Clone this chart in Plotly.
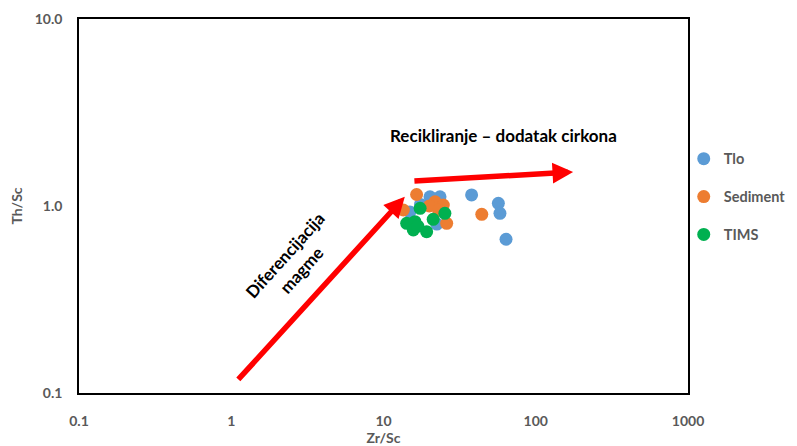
import numpy as np
import plotly.graph_objects as go

# Data (Zr/Sc, Th/Sc)
tlo_x = [37.9, 56.8, 58.2, 63.8, 20.2, 23.5, 22.4, 14.9, 17.5]
tlo_y = [1.146, 1.034, 0.914, 0.664, 1.12, 1.12, 0.80, 0.93, 1.02]
sed_x = [44.2, 16.5, 13.5, 21.8, 24.7, 26.0, 20.0, 23.0]
sed_y = [0.903, 1.152, 0.952, 1.054, 1.012, 0.808, 1.0, 0.95]
tims_x = [17.4, 25.3, 21.2, 14.2, 16.1, 15.7, 19.2, 16.8]
tims_y = [0.972, 0.914, 0.849, 0.808, 0.824, 0.744, 0.729, 0.78]

x_ticks = [0.1, 1, 10, 100, 1000]
x_ticktext = ["<b>0.1</b>", "<b>1</b>", "<b>10</b>", "<b>100</b>", "<b>1000</b>"]
y_ticks = [0.1, 1, 10]
y_ticktext = ["<b>0.1</b>", "<b>1.0</b>", "<b>10.0</b>"]

# arrows: (start, end) in data coordinates
arrow1 = ((1.09, 0.116), (13.8, 1.12))
arrow2 = ((15.6, 1.36), (176, 1.52))

font = "Lato, 'Open Sans', sans-serif"
gray = "#595959"

fig = go.Figure()
for name, xs, ys, col in [("Tlo", tlo_x, tlo_y, "#5B9BD5"),
                          ("Sediment", sed_x, sed_y, "#ED7D31"),
                          ("TIMS", tims_x, tims_y, "#00B050")]:
    fig.add_trace(go.Scatter(x=xs, y=ys, mode="markers", name="<b>" + name + "</b>",
                             legendgroup=name,
                             marker=dict(size=13, color=col, line=dict(width=0))))

for (s, e) in [arrow1, arrow2]:
    fig.add_annotation(x=np.log10(e[0]), y=np.log10(e[1]),
                       ax=np.log10(s[0]), ay=np.log10(s[1]),
                       xref="x", yref="y", axref="x", ayref="y",
                       showarrow=True, arrowhead=2, arrowsize=0.75,
                       arrowwidth=5.5, arrowcolor="#FF0000", text="")

fig.add_annotation(x=np.log10(61), y=np.log10(2.37), xref="x", yref="y",
                   text="<b>Recikliranje – dodatak cirkona</b>", showarrow=False,
                   font=dict(family=font, size=17, color="black"))
fig.add_annotation(x=np.log10(2.54), y=np.log10(0.50), xref="x", yref="y",
                   text="<b>Diferencijacija<br>magme</b>", showarrow=False,
                   textangle=-48,
                   font=dict(family=font, size=17, color="black"))

axis_common = dict(showgrid=False, zeroline=False, showline=True, linecolor="black",
                   linewidth=1.5, mirror=True, ticks="", automargin=False,
                   tickfont=dict(family=font, size=14, color=gray))
fig.update_xaxes(type="log", range=[-1, 3], tickvals=x_ticks, ticktext=x_ticktext,
                 ticklabelstandoff=14,
                 title=dict(text="<b>Zr/Sc</b>", font=dict(family=font, size=14, color=gray),
                            standoff=0),
                 **axis_common)
fig.update_yaxes(type="log", range=[-1, 1], tickvals=y_ticks, ticktext=y_ticktext,
                 ticklabelstandoff=12,
                 title=dict(text="<b>Th/Sc</b>", font=dict(family=font, size=14, color=gray),
                            standoff=22),
                 **axis_common)

fig.update_layout(
    width=789, height=438,
    margin=dict(l=71, r=109, t=11, b=53, autoexpand=False),
    paper_bgcolor="white", plot_bgcolor="white",
    showlegend=True,
    legend=dict(x=0.993, y=0.669, xanchor="left", yanchor="top",
                tracegroupgap=16, itemwidth=30,
                font=dict(family=font, size=14.5, color=gray), bgcolor="rgba(0,0,0,0)"),
)
fig.write_html("out.html")
